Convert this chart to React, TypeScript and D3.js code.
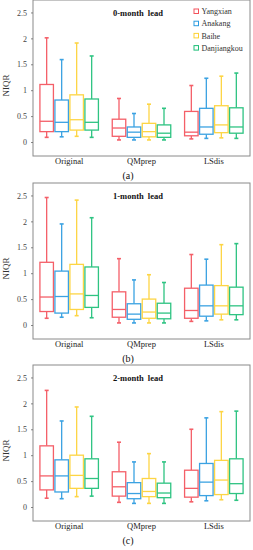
import React from "react";
import * as d3 from "d3";

const categories = ["Original", "QMprep", "LSdis"];
const series = ["Yangxian", "Anakang", "Baihe", "Danjiangkou"];
const colors = ["#f4525c", "#2b9be0", "#fdd235", "#1dbf78"];
const yTicks = [0, 0.5, 1, 1.5, 2, 2.5];
const panelTitles = ["0-month lead", "1-month lead", "2-month lead"];
const captions = ["(a)", "(b)", "(c)"];

// [low whisker, Q1, median, Q3, high whisker] per category, per series
const lead0 = [
  [[0.10, 0.21, 0.41, 1.12, 2.02], [0.11, 0.21, 0.39, 0.82, 1.60], [0.12, 0.24, 0.44, 0.92, 1.92], [0.10, 0.24, 0.39, 0.84, 1.67]],
  [[0.05, 0.12, 0.28, 0.45, 0.85], [0.05, 0.10, 0.20, 0.30, 0.56], [0.05, 0.11, 0.21, 0.37, 0.74], [0.05, 0.10, 0.18, 0.34, 0.66]],
  [[0.07, 0.13, 0.20, 0.60, 1.10], [0.08, 0.16, 0.30, 0.66, 1.24], [0.09, 0.19, 0.34, 0.71, 1.28], [0.08, 0.18, 0.30, 0.67, 1.34]],
];
const lead1 = [
  [[0.14, 0.27, 0.55, 1.22, 2.47], [0.16, 0.24, 0.56, 1.05, 1.96], [0.19, 0.31, 0.61, 1.18, 2.42], [0.15, 0.35, 0.58, 1.13, 2.08]],
  [[0.05, 0.16, 0.31, 0.65, 1.29], [0.05, 0.12, 0.22, 0.42, 0.88], [0.05, 0.14, 0.26, 0.51, 0.98], [0.05, 0.13, 0.24, 0.43, 0.83]],
  [[0.08, 0.14, 0.29, 0.72, 1.37], [0.09, 0.18, 0.38, 0.78, 1.28], [0.11, 0.22, 0.38, 0.77, 1.56], [0.11, 0.21, 0.38, 0.74, 1.58]],
];
const lead2 = [
  [[0.18, 0.34, 0.61, 1.19, 2.26], [0.17, 0.30, 0.61, 0.92, 1.67], [0.21, 0.37, 0.62, 1.01, 1.94], [0.22, 0.37, 0.56, 0.94, 1.76]],
  [[0.10, 0.22, 0.40, 0.69, 1.26], [0.08, 0.17, 0.27, 0.48, 0.88], [0.08, 0.21, 0.31, 0.56, 1.04], [0.08, 0.19, 0.28, 0.47, 0.88]],
  [[0.11, 0.20, 0.37, 0.72, 1.51], [0.13, 0.23, 0.49, 0.85, 1.73], [0.15, 0.25, 0.53, 0.91, 1.85], [0.14, 0.27, 0.46, 0.94, 1.86]],
];
const panelsData = [lead0, lead1, lead2];

const W = 253;
const H = 550;
const left = 33;
const right = 250;
const panelTops = [0, 183, 365];
const panelH = 156;
const font = "'Liberation Serif', 'Times New Roman', serif";

function Panel({ idx }: { idx: number }) {
  const top = panelTops[idx];
  const bottom = top + panelH;
  const data = panelsData[idx];
  const y = d3.scaleLinear().domain([-0.26, 2.75]).range([bottom, top]);
  const x = d3.scaleBand().domain(categories).range([left, right]).padding(0);
  const cx = (c: string) => (x(c) as number) + x.bandwidth() / 2;
  const inner = d3.scaleBand().domain(series).range([-30, 30]).padding(0);
  const boxW = inner.bandwidth() * 0.9;
  const capW = 4;

  return (
    <g>
      <rect x={left} y={top} width={right - left} height={panelH} fill="none" stroke="#8a8a8a" strokeWidth={1} />
      {yTicks.map((t) => (
        <g key={t}>
          <line x1={left - 2} x2={left} y1={y(t)} y2={y(t)} stroke="#666" strokeWidth={0.8} />
          <text x={left - 6} y={y(t)} dy="0.33em" textAnchor="end" fontSize={8} fill="#444" fontFamily={font}>
            {t}
          </text>
        </g>
      ))}
      <text
        transform={`translate(9,${y(1.1)}) rotate(-90)`}
        textAnchor="middle"
        fontSize={9}
        fill="#333"
        fontFamily={font}
      >
        NIQR
      </text>
      <text x={138} y={top + 15.5} textAnchor="middle" fontSize={8.5} fontWeight="bold" fill="#111" fontFamily={font} wordSpacing={2}>
        {panelTitles[idx]}
      </text>
      {categories.map((c, ci) => (
        <g key={c}>
          {series.map((s, si) => {
            const [lo, q1, med, q3, hi] = data[ci][si];
            const xc = cx(c) + (inner(s) as number) + inner.bandwidth() / 2;
            const col = colors[si];
            return (
              <g key={s} stroke={col} fill="none" strokeWidth={1.3} opacity={0.92}>
                <line x1={xc} x2={xc} y1={y(hi)} y2={y(q3)} />
                <line x1={xc} x2={xc} y1={y(q1)} y2={y(lo)} />
                <line x1={xc - capW / 2} x2={xc + capW / 2} y1={y(hi)} y2={y(hi)} strokeWidth={1.6} />
                <line x1={xc - capW / 2} x2={xc + capW / 2} y1={y(lo)} y2={y(lo)} strokeWidth={1.6} />
                <rect x={xc - boxW / 2} y={y(q3)} width={boxW} height={y(q1) - y(q3)} fill="#fff" />
                <line x1={xc - boxW / 2} x2={xc + boxW / 2} y1={y(med)} y2={y(med)} />
              </g>
            );
          })}
          <text x={cx(c)} y={bottom + 8} textAnchor="middle" fontSize={8.5} fill="#222" fontFamily={font}>
            {c}
          </text>
        </g>
      ))}
      <text x={128} y={bottom + 23} textAnchor="middle" fontSize={10} fill="#111" fontFamily={font}>
        {captions[idx]}
      </text>
      {idx === 0 &&
        series.map((s, si) => (
          <g key={s}>
            <rect x={194} y={9 + si * 12.2} width={4.5} height={4.5} fill="none" stroke={colors[si]} strokeWidth={1} />
            <text x={201.5} y={11.3 + si * 12.2} dy="0.35em" fontSize={8} fill="#333" fontFamily={font}>
              {s}
            </text>
          </g>
        ))}
    </g>
  );
}

export default function App() {
  return (
    <svg width={W} height={H} style={{ position: "absolute", left: 0, top: 0, background: "#fff" }}>
      {[0, 1, 2].map((i) => (
        <Panel key={i} idx={i} />
      ))}
    </svg>
  );
}
